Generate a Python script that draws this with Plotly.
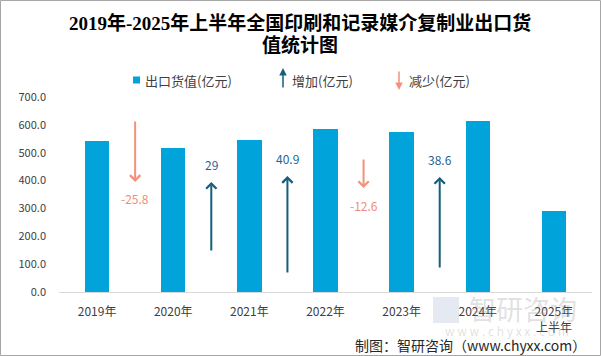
import plotly.graph_objects as go

# ---- data ----
categories = ["2019年", "2020年", "2021年", "2022年", "2023年", "2024年", "2025年<br>上半年"]
export_values = [542.0, 516.2, 545.2, 586.1, 573.5, 612.1, 291.0]   # 出口货值(亿元)
changes = [-25.8, 29, 40.9, -12.6, 38.6]                           # year-on-year change
# helper series for the change arrows (axis units, as drawn in the original)
arrow_base = [617, 144, 65, 481, 83]
arrow_tip = [395, 395, 416, 373, 413]
label_level = [334, 459, 481, 309, 477]
y_ticks = [0, 100, 200, 300, 400, 500, 600, 700]
title_lines = ["2019年-2025年上半年全国印刷和记录媒介复制业出口货", "值统计图"]

BAR = "#00A3DA"
UP = "#155E7C"
UP_TXT = "#1F6494"
DOWN = "#F4917A"
DOWN_TXT = "#F08C78"
TXT = "#404040"
CJK = "Noto Sans CJK SC, Noto Sans, sans-serif"

W, H = 601, 356
L, R, T, B = 59, 9, 97, 64
PW, PH = W - L - R, H - T - B


def px(xp):
    return (xp - L) / PW


def py(yp):
    return (H - B - yp) / PH


def txt(xp, yp, text, size, color, family=CJK, xanchor="center"):
    return dict(x=px(xp), y=py(yp), xref="paper", yref="paper", showarrow=False,
                xanchor=xanchor, yanchor="middle", text=text,
                font=dict(family=family, size=size, color=color))


xs = list(range(len(categories)))
fig = go.Figure()
fig.add_trace(go.Bar(x=xs, y=export_values, width=0.32, marker=dict(color=BAR, line=dict(width=0)),
                     name="出口货值(亿元)", showlegend=False, hoverinfo="y"))

annotations = []
shapes = []

# watermark (faint, first so other text sits above it)
shapes.append(dict(type="rect", xref="paper", yref="paper", x0=px(433), x1=px(459), y0=py(323), y1=py(297),
                   fillcolor="rgba(150,170,205,0.25)", line=dict(width=0), layer="below"))
annotations.append(txt(523, 308, "智研咨询", 27, "rgba(150,150,150,0.3)"))
annotations.append(txt(507, 330, "w w w . c h y x x . c o m", 12, "rgba(150,150,150,0.3)"))

# title
annotations.append(txt(300, 23, "<b>" + title_lines[0] + "</b>", 19, "#000000", family="Liberation Serif, " + CJK))
annotations.append(txt(300, 45, "<b>" + title_lines[1] + "</b>", 19, "#000000", family="Liberation Serif, " + CJK))

# change arrows and their labels
for i, ch in enumerate(changes):
    xa = i + 0.5
    col = UP if ch > 0 else DOWN
    tcol = UP_TXT if ch > 0 else DOWN_TXT
    annotations.append(dict(x=xa, y=arrow_tip[i], xref="x", yref="y",
                            ax=xa, ay=arrow_base[i], axref="x", ayref="y",
                            showarrow=True, arrowhead=4, arrowwidth=2, arrowsize=1,
                            arrowcolor=col, text=""))
    annotations.append(dict(x=xa, y=label_level[i], xref="x", yref="y", showarrow=False,
                            xanchor="center", yanchor="middle",
                            text=f"{ch:g}", font=dict(family=CJK, size=12, color=tcol)))

# custom legend
shapes.append(dict(type="rect", xref="paper", yref="paper",
                   x0=px(133), x1=px(140), y0=py(83.5), y1=py(76.5),
                   fillcolor=BAR, line=dict(width=0)))
annotations.append(txt(143, 80, "出口货值(亿元)", 13, TXT, xanchor="left"))
annotations.append(dict(x=px(283), y=py(68), xref="paper", yref="paper", ax=0, ay=21,
                        showarrow=True, arrowhead=2, arrowwidth=1.5, arrowsize=1, arrowcolor=UP, text=""))
annotations.append(txt(290, 80, "增加(亿元)", 13, TXT, xanchor="left"))
annotations.append(dict(x=px(399), y=py(90), xref="paper", yref="paper", ax=0, ay=-20,
                        showarrow=True, arrowhead=2, arrowwidth=1.5, arrowsize=1, arrowcolor=DOWN, text=""))
annotations.append(txt(407, 80, "减少(亿元)", 13, TXT, xanchor="left"))

# source
annotations.append(txt(588, 345, "制图：智研咨询（www.chyxx.com）", 14, "#262626", xanchor="right"))

# outer frame
shapes.append(dict(type="rect", xref="paper", yref="paper",
                   x0=px(0.5), x1=px(600.5), y0=py(355.5), y1=py(0.5),
                   line=dict(color="#A6A6A6", width=1), fillcolor="rgba(0,0,0,0)"))

fig.update_layout(
    width=W, height=H,
    margin=dict(l=L, r=R, t=T, b=B, pad=0),
    paper_bgcolor="white", plot_bgcolor="white",
    showlegend=False,
    bargap=0,
    xaxis=dict(range=[-0.5, len(categories) - 0.5], tickmode="array", tickvals=xs, ticktext=categories,
               showgrid=False, zeroline=False, showline=True, linecolor="#D9D9D9", linewidth=1,
               ticks="", ticklabelstandoff=9, tickfont=dict(family=CJK, size=12, color=TXT), fixedrange=True),
    yaxis=dict(range=[0, 700], tickmode="array", tickvals=y_ticks,
               ticktext=[f"{v:.1f}" for v in y_ticks],
               showgrid=False, zeroline=False, showline=False, ticks="", ticklabelstandoff=12,
               tickfont=dict(family=CJK, size=11, color=TXT), fixedrange=True),
    annotations=annotations,
    shapes=shapes,
)

fig.write_html("out.html", config={"displayModeBar": False},
               post_script="document.body.style.margin='0px';")
